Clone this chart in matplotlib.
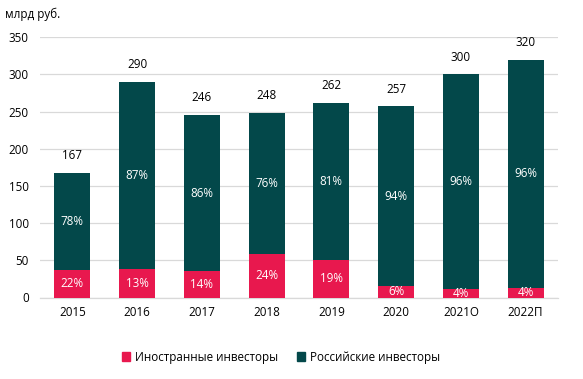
import matplotlib
matplotlib.use("Agg")
import matplotlib.pyplot as plt
from matplotlib.patches import Patch
import numpy as np

categories = ["2015", "2016", "2017", "2018", "2019", "2020", "2021О", "2022П"]
totals = [167, 290, 246, 248, 262, 257, 300, 320]
foreign = [37, 39, 35, 59, 51, 16, 11, 13]
foreign_pct = ["22%", "13%", "14%", "24%", "19%", "6%", "4%", "4%"]
russian_pct = ["78%", "87%", "86%", "76%", "81%", "94%", "96%", "96%"]
yticks = [0, 50, 100, 150, 200, 250, 300, 350]

russian = [t - f for t, f in zip(totals, foreign)]

plt.rcParams['font.family'] = ['Open Sans', 'DejaVu Sans']
PINK = "#E8184E"
TEAL = "#03484A"

fig = plt.figure(figsize=(5.83, 3.79), dpi=100)
W, H = 583, 379
ax = fig.add_axes([40 / W, 1 - 297.5 / H, (558 - 40) / W, (297.5 - 37.3) / H])

x = np.arange(len(categories))
bw = 0.555
ax.bar(x, foreign, bw, color=PINK, zorder=3)
ax.bar(x, russian, bw, bottom=foreign, color=TEAL, zorder=3)

fs = 8.4
for i in range(len(categories)):
    ax.text(x[i], foreign[i] / 2, foreign_pct[i], ha='center', va='center',
            color='white', fontsize=fs, zorder=4)
    ax.text(x[i], foreign[i] + russian[i] / 2, russian_pct[i], ha='center', va='center',
            color='white', fontsize=fs, zorder=4)
    ax.annotate(str(totals[i]), (x[i], totals[i]), xytext=(0, 12.5), textcoords='offset points',
                ha='center', va='center', color='black', fontsize=fs)

ax.set_xlim(-0.5, len(categories) - 0.5)
ax.set_ylim(0, 350)
ax.set_yticks(yticks)
ax.set_xticks(x)
ax.set_xticklabels(categories)
ax.tick_params(axis='both', length=0, labelsize=fs, colors='black')
ax.tick_params(axis='y', pad=8)
ax.tick_params(axis='x', pad=6)
ax.yaxis.grid(True, color='#D9D9D9', linewidth=0.9, zorder=0)
ax.set_axisbelow(True)
for s in ['top', 'right', 'left']:
    ax.spines[s].set_visible(False)
ax.spines['bottom'].set_color('#D9D9D9')
ax.spines['bottom'].set_linewidth(0.9)

fig.text(5 / W, 1 - 14 / H, "млрд руб.", ha='left', va='center', fontsize=fs)

handles = [Patch(color=PINK, label="Иностранные инвесторы"),
           Patch(color=TEAL, label="Российские инвесторы")]
fig.legend(handles=handles, loc='center', bbox_to_anchor=(281 / W, 1 - 357 / H), ncol=2,
           frameon=False, fontsize=fs, handlelength=0.7, handleheight=0.7,
           handletextpad=0.4, columnspacing=1.6)

fig.savefig("out.png", dpi=100)
